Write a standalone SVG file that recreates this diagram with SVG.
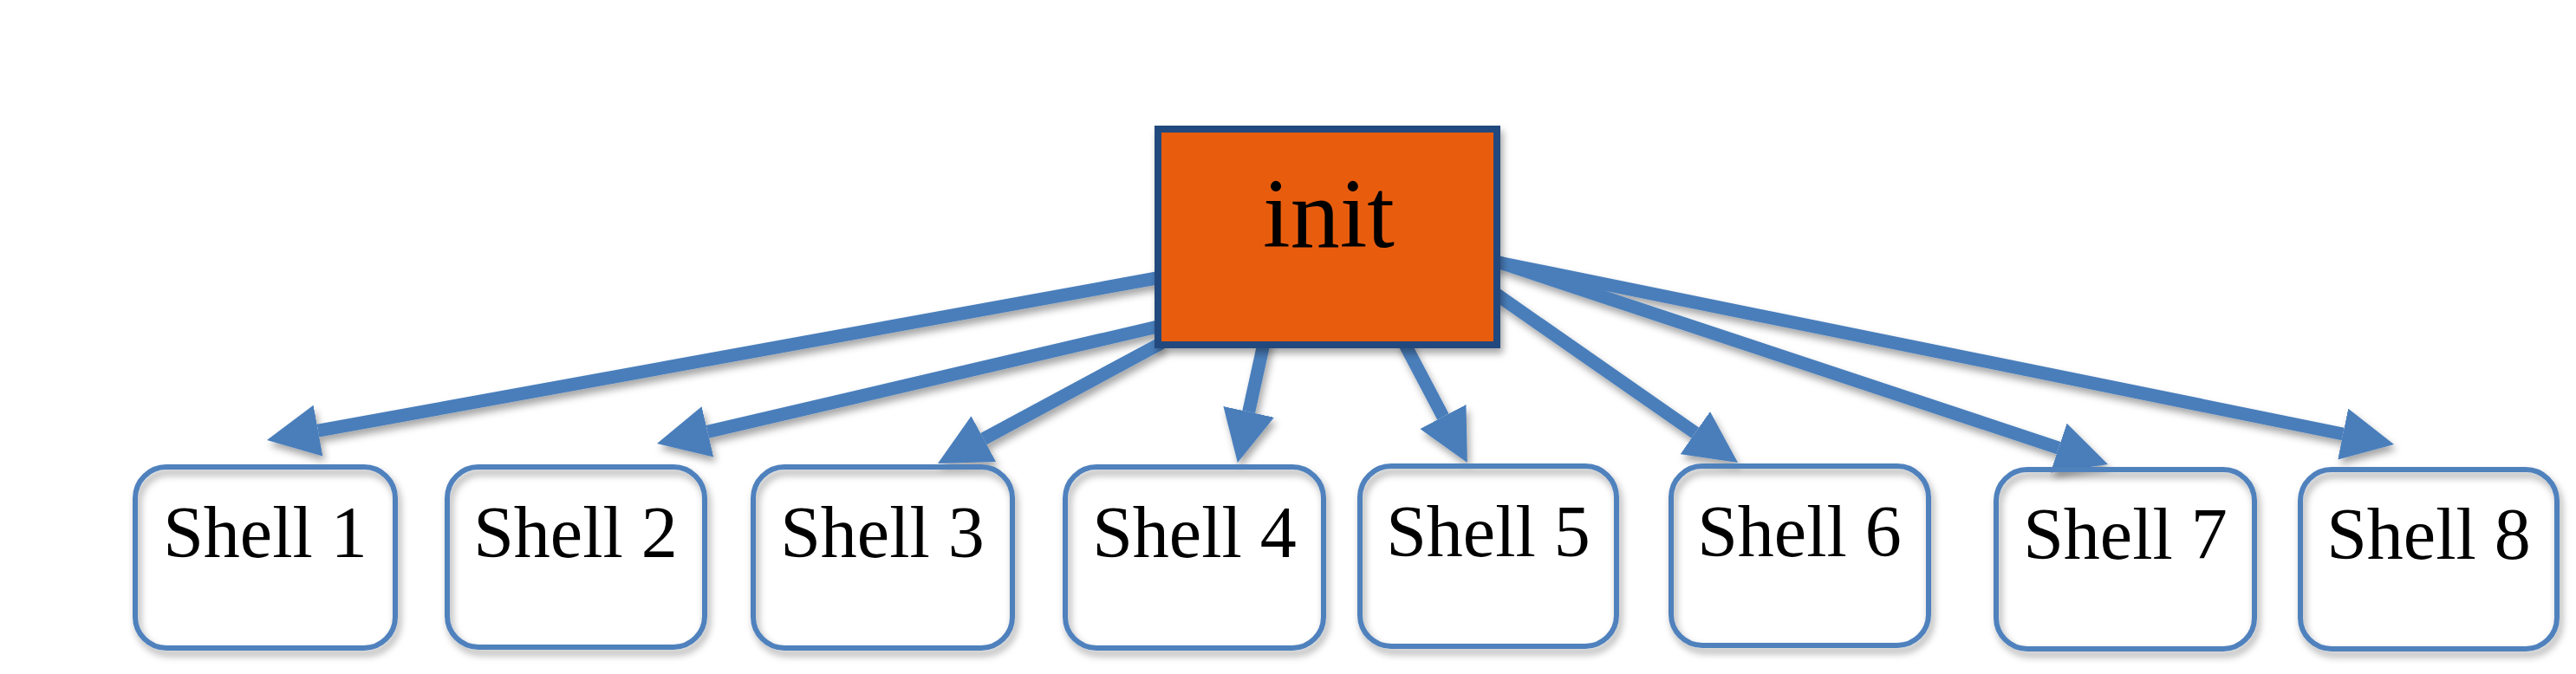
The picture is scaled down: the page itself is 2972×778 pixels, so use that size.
<svg xmlns="http://www.w3.org/2000/svg" width="2972" height="778" viewBox="0 0 2972 778">
<defs>
<filter id="sh" x="-20%" y="-20%" width="140%" height="160%">
<feDropShadow dx="3" dy="6" stdDeviation="4" flood-color="#000" flood-opacity="0.35"/>
</filter>
<marker id="ah" viewBox="0 0 60 60" refX="0" refY="30" markerWidth="60" markerHeight="60" markerUnits="userSpaceOnUse" orient="auto">
<path d="M0,0 L60,30 L0,60 Z" fill="#4A7EBB"/>
</marker>
<style>
.conn line{stroke:#4A7EBB;stroke-width:15;fill:none;marker-end:url(#ah)}
.shell rect{fill:none;stroke:#4F81BD;stroke-width:6}
.shell text{font-family:"Liberation Serif",serif;font-size:84px;fill:#000;text-anchor:middle}
</style>
</defs>
<rect width="2972" height="778" fill="#fff"/>
<g id="connectors" class="conn" filter="url(#sh)">
<line x1="1340" y1="320" x2="367" y2="497.2"/>
<line x1="1340" y1="376" x2="816.4" y2="498.4"/>
<line x1="1340" y1="396" x2="1134.8" y2="506.6"/>
<line x1="1459" y1="392" x2="1440.7" y2="475.4"/>
<line x1="1618" y1="392" x2="1664.9" y2="481"/>
<line x1="1724" y1="338" x2="1955.8" y2="499.7"/>
<line x1="1724" y1="301" x2="2375.1" y2="517.1"/>
<line x1="1724" y1="302" x2="2703.2" y2="501"/>
</g>
<g id="init" filter="url(#sh)">
<rect x="1336" y="149" width="391" height="249" fill="#E85D0F" stroke="#214A7E" stroke-width="8"/>
<text x="1533" y="285" font-family="Liberation Serif,serif" font-size="114" text-anchor="middle" fill="#000">init</text>
</g>
<g id="shell1" class="shell"><rect x="156" y="539" width="300" height="209" rx="36" filter="url(#sh)"/><text x="306" y="643">Shell 1</text></g>
<g id="shell2" class="shell"><rect x="516" y="539" width="297" height="208" rx="36" filter="url(#sh)"/><text x="664" y="643">Shell 2</text></g>
<g id="shell3" class="shell"><rect x="869" y="539" width="299" height="209" rx="36" filter="url(#sh)"/><text x="1018" y="643">Shell 3</text></g>
<g id="shell4" class="shell"><rect x="1229" y="539" width="298" height="209" rx="36" filter="url(#sh)"/><text x="1378" y="643">Shell 4</text></g>
<g id="shell5" class="shell"><rect x="1569" y="538" width="296" height="208" rx="36" filter="url(#sh)"/><text x="1717" y="642">Shell 5</text></g>
<g id="shell6" class="shell"><rect x="1928" y="538" width="297" height="207" rx="36" filter="url(#sh)"/><text x="2076" y="642">Shell 6</text></g>
<g id="shell7" class="shell"><rect x="2303" y="542" width="298" height="207" rx="36" filter="url(#sh)"/><text x="2452" y="645">Shell 7</text></g>
<g id="shell8" class="shell"><rect x="2654" y="542" width="296" height="207" rx="36" filter="url(#sh)"/><text x="2802" y="645">Shell 8</text></g>
</svg>
